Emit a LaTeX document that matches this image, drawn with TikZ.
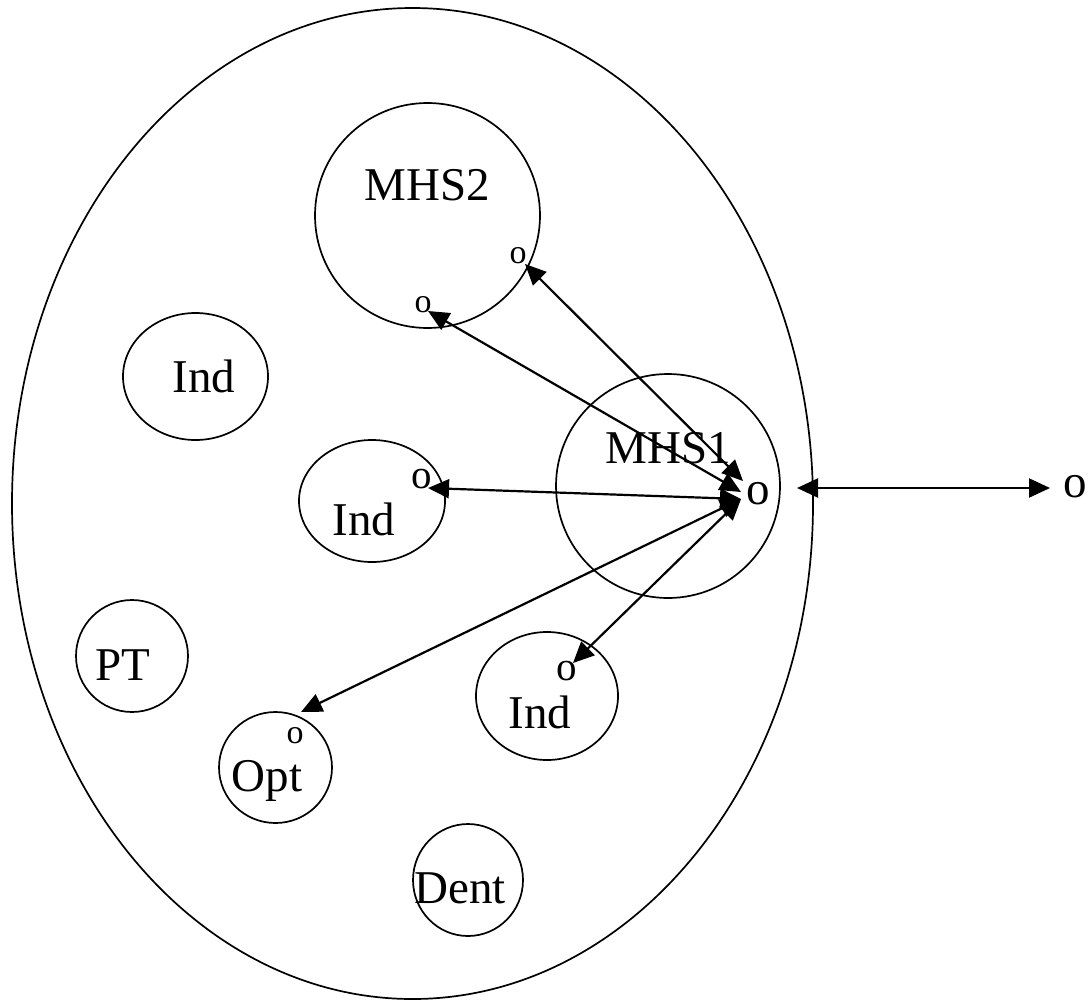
\documentclass[tikz,border=0pt]{standalone}
\usepackage{fontspec}
\setmainfont{Liberation Serif}
\usetikzlibrary{shapes.geometric,arrows.meta}
\begin{document}
\begin{tikzpicture}[x=1pt,y=-1pt,
  blob/.style={draw,ellipse,line width=1.7pt,inner sep=0pt},
  txt/.style={anchor=base,inner sep=0pt,font=\fontsize{47}{56}\selectfont},
  otxt/.style={anchor=base,inner sep=0pt,font=\fontsize{#1}{40}\selectfont},
  conn/.style={line width=2.2pt,{Triangle[length=21pt,width=19pt]}-{Triangle[length=21pt,width=19pt]}}]
\useasboundingbox (0,0) rectangle (1091,1001);
% outer ellipse
\node[blob,minimum width=801pt,minimum height=991pt] (outer) at (412.5,503.5) {};
% circles
\node[blob,minimum width=225pt,minimum height=225pt] (mhs2) at (427.5,215.5) {};
\node[blob,minimum width=224pt,minimum height=224pt] (mhs1) at (668,486) {};
\node[blob,minimum width=145pt,minimum height=127pt] (indtl) at (195.5,376.5) {};
\node[blob,minimum width=146pt,minimum height=122pt] (indm) at (372,501) {};
\node[blob,minimum width=142pt,minimum height=128pt] (indl) at (547,696) {};
\node[blob,minimum width=112pt,minimum height=112pt] (pt) at (132,656) {};
\node[blob,minimum width=113pt,minimum height=111pt] (opt) at (275.5,767.5) {};
\node[blob,minimum width=110pt,minimum height=112pt] (dent) at (468,880) {};
% labels
\node[txt] (lmhs2) at (427,200) {MHS2};
\node[txt] (lmhs1) at (668,463) {MHS1};
\node[txt] (lindtl) at (204,392) {Ind};
\node[txt] (lindm) at (364,535) {Ind};
\node[txt] (lindl) at (540,728) {Ind};
\node[txt] (lpt) at (123,680) {PT};
\node[txt] (lopt) at (267,791) {Opt};
\node[txt] (ldent) at (460,903) {Dent};
% small o's
\node[otxt=34] (o2r) at (518,263) {o};
\node[otxt=34] (o2l) at (423,312) {o};
\node[otxt=47] (o1) at (758,504) {o};
\node[otxt=41] (oim) at (422,488) {o};
\node[otxt=41] (oil) at (567,680) {o};
\node[otxt=34] (oopt) at (295,743) {o};
\node[otxt=47] (oext) at (1075,497) {o};
% arrow end points
\coordinate (m1a) at (743,481);
\coordinate (m1b) at (741,492);
\coordinate (m1c) at (741,499);
\coordinate (p2r) at (525,264);
\coordinate (p2l) at (428,311);
\coordinate (pim) at (428,488);
\coordinate (popt) at (301,712);
\coordinate (pil) at (573,663);
\coordinate (ea) at (797,488);
\coordinate (eb) at (1050,488);
% connectors
\draw[conn] (p2r) -- (m1a);
\draw[conn] (p2l) -- (m1b);
\draw[conn] (pim) -- (m1c);
\draw[conn] (popt) -- (m1c);
\draw[conn] (pil) -- (m1c);
\draw[conn] (ea) -- (eb);
\end{tikzpicture}
\end{document}
